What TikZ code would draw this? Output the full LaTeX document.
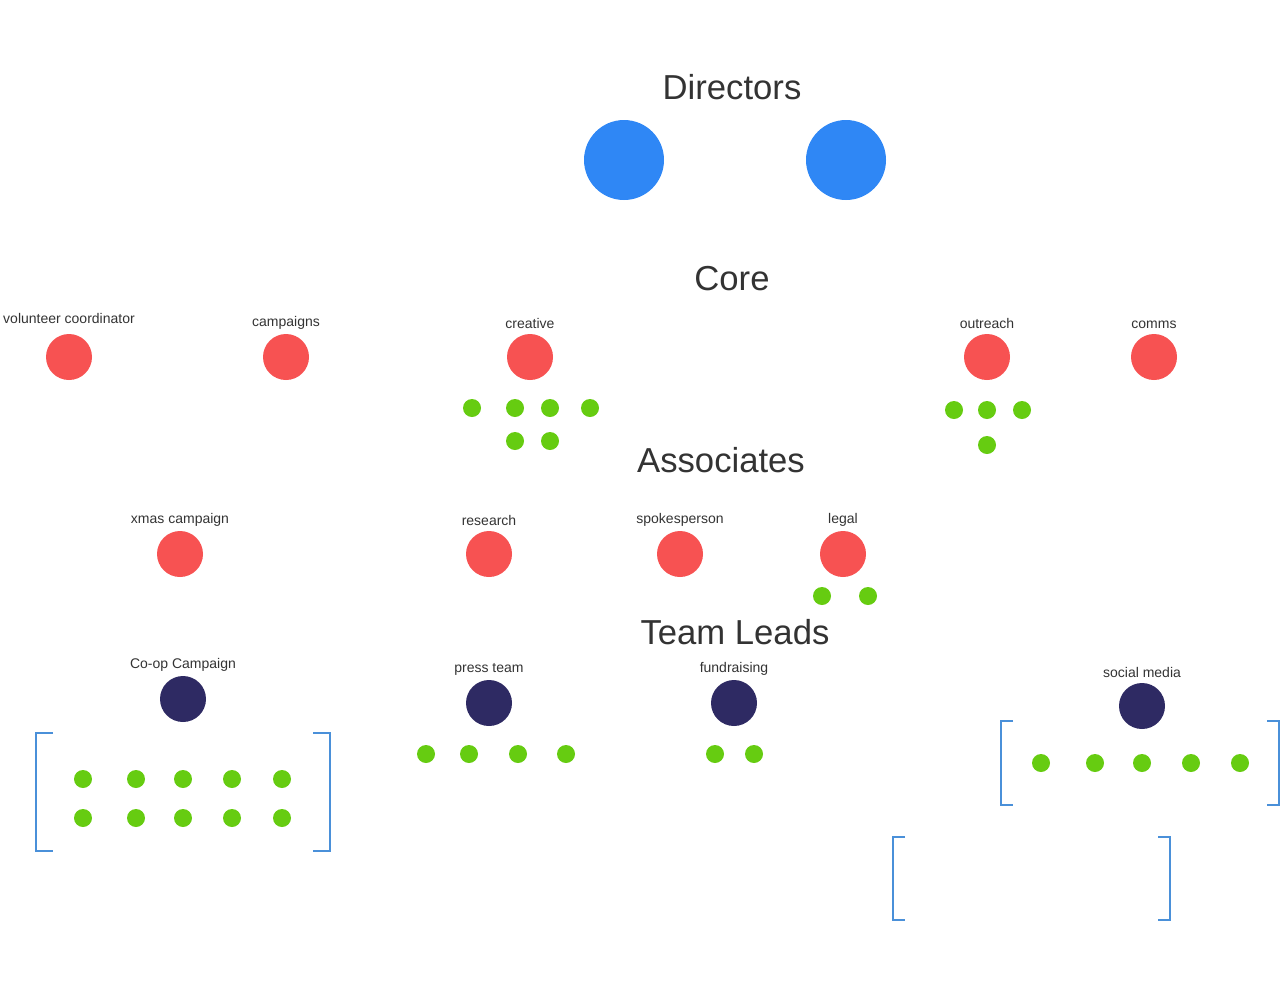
\documentclass[tikz,border=0pt]{standalone}
\usepackage{fontspec}
\setmainfont{Liberation Sans}
\definecolor{dirblue}{HTML}{2F87F5}
\definecolor{corered}{HTML}{F75252}
\definecolor{dotgreen}{HTML}{66CC11}
\definecolor{leadnavy}{HTML}{2E2A63}
\definecolor{brkblue}{HTML}{4A90D9}
\definecolor{txt}{HTML}{333333}
\begin{document}
\begin{tikzpicture}[x=0.75pt, y=-0.75pt,
    director/.style={circle, fill=dirblue, minimum size=60pt, inner sep=0pt},
    member/.style={circle, fill=corered, minimum size=34.5pt, inner sep=0pt, label distance=0pt},
    lead/.style={circle, fill=leadnavy, minimum size=34.5pt, inner sep=0pt, label distance=0pt},
    dot/.style={circle, fill=dotgreen, minimum size=13.5pt, inner sep=0pt},
    heading/.style={text=txt, font=\fontsize{26}{30}\selectfont},
    tag/.style={text=txt, font=\fontsize{10.5}{12}\selectfont},
    bracket/.style={draw=brkblue, line width=1pt}]

    \useasboundingbox (0,0) rectangle (1280,990);

    \node[heading] (h_dir) at (732, 87) {Directors};
    \node[director] (d_1) at (624, 160) {};
    \node[director] (d_2) at (846, 160) {};

    \node[heading] (h_core) at (732, 279) {Core};
    \node[tag] (t_vol) at (69, 318) {volunteer coordinator};
    \node[member] (vol) at (69, 357) {};
    \node[member, label={[tag]above:campaigns}] (camp) at (286, 357) {};
    \node[member, label={[tag]above:creative}] (crea) at (530, 357) {};
    \node[member, label={[tag]above:outreach}] (outr) at (987, 357) {};
    \node[member, label={[tag]above:comms}] (comm) at (1154, 357) {};
    \foreach \x/\y [count=\i] in {472/408, 515/408, 550/408, 590/408, 515/441, 550/441}
        \node[dot] (crea_\i) at (\x, \y) {};
    \foreach \x/\y [count=\i] in {954/410, 987/410, 1022/410, 987/445}
        \node[dot] (outr_\i) at (\x, \y) {};

    \node[heading] (h_assoc) at (721, 460) {Associates};
    \node[member, label={[tag]above:xmas campaign}] (xmas) at (180, 554) {};
    \node[member, label={[tag]above:research}] (rsch) at (489, 554) {};
    \node[member, label={[tag]above:spokesperson}] (spok) at (680, 554) {};
    \node[member, label={[tag]above:legal}] (legl) at (843, 554) {};
    \node[dot] (legl_1) at (822, 596) {};
    \node[dot] (legl_2) at (868, 596) {};

    \node[heading] (h_lead) at (735, 632) {Team Leads};
    \node[lead, label={[tag]above:Co-op Campaign}] (coop) at (183, 699) {};
    \node[lead, label={[tag]above:press team}] (pres) at (489, 703) {};
    \node[lead, label={[tag]above:fundraising}] (fund) at (734, 703) {};
    \node[lead, label={[tag]above:social media}] (soci) at (1142, 706) {};
    \foreach \x [count=\i] in {83, 136, 183, 232, 282} {
        \node[dot] (coop_a\i) at (\x, 779) {};
        \node[dot] (coop_b\i) at (\x, 818) {};
    }
    \foreach \x [count=\i] in {426, 469, 518, 566}
        \node[dot] (pres_\i) at (\x, 754) {};
    \foreach \x [count=\i] in {715, 754}
        \node[dot] (fund_\i) at (\x, 754) {};
    \foreach \x [count=\i] in {1041, 1095, 1142, 1191, 1240}
        \node[dot] (soci_\i) at (\x, 763) {};

    % brackets
    \draw[bracket] (53,733) -- (36,733) -- (36,851) -- (53,851);
    \draw[bracket] (313,733) -- (330,733) -- (330,851) -- (313,851);
    \draw[bracket] (1013,721) -- (1001,721) -- (1001,805) -- (1013,805);
    \draw[bracket] (1267,721) -- (1279,721) -- (1279,805) -- (1267,805);
    \draw[bracket] (905,837) -- (893,837) -- (893,920) -- (905,920);
    \draw[bracket] (1158,837) -- (1170,837) -- (1170,920) -- (1158,920);
\end{tikzpicture}
\end{document}
